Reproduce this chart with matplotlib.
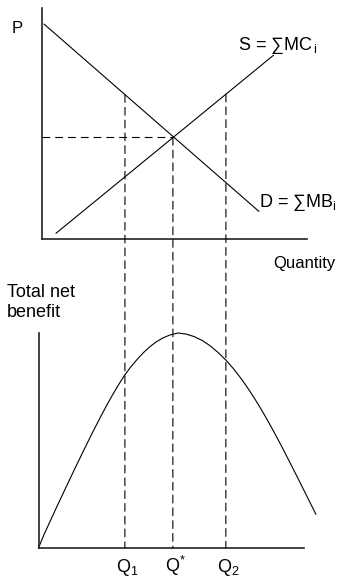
import numpy as np
import matplotlib
matplotlib.use("Agg")
import matplotlib.pyplot as plt
from matplotlib.patches import ConnectionPatch

plt.rcParams['font.family'] = ['Liberation Sans', 'DejaVu Sans']
plt.rcParams['mathtext.fontset'] = 'custom'
plt.rcParams['mathtext.rm'] = 'Liberation Sans'
plt.rcParams['mathtext.it'] = 'Liberation Sans'

# ---- data ----
demand_q = [1.0, 82.0]
demand_p = [93.0, 12.0]
supply_q = [5.5, 87.5]
supply_p = [2.5, 79.5]
q_star = 49.6
p_star = 44.0
q_marks = [31.5, 49.6, 69.6]
q_labels = [r"Q$_{1}$", r"Q$^{*}$", r"Q$_{2}$"]

nb_q = [-1.1, 0.94, 3.21, 5.47, 7.74, 10.0, 12.64, 14.91, 17.55, 19.81,
        22.08, 24.34, 26.60, 28.87, 31.51, 33.77, 36.42, 38.68, 40.94, 43.21,
        45.85, 48.49, 51.51, 54.53, 57.55, 60.57, 63.58, 66.60, 69.62, 72.64,
        75.66, 78.68, 81.70, 84.72, 87.74, 90.75, 93.77, 96.79, 99.81, 103.58]
nb_v = [0.0, 6.14, 12.23, 18.28, 24.23, 30.14, 36.98, 42.74, 49.40, 54.98,
        60.42, 65.67, 70.70, 75.44, 80.60, 84.28, 88.14, 91.07, 93.63, 95.77,
        97.72, 99.07, 100.0, 99.53, 98.37, 96.60, 94.14, 91.02, 87.40, 83.16,
        78.33, 72.93, 67.07, 60.74, 54.05, 47.07, 39.81, 32.47, 25.02, 15.72]

W, H = 350, 579
fig = plt.figure(figsize=(W / 100, H / 100), dpi=100)

def rect(x0, y0, x1, y1):
    return [x0 / W, 1 - y1 / H, (x1 - x0) / W, (y1 - y0) / H]

ax1 = fig.add_axes(rect(41.5, 8, 306.5, 239))
ax2 = fig.add_axes(rect(38.5, 333, 304, 548))

for ax in (ax1, ax2):
    for s in ('top', 'right'):
        ax.spines[s].set_visible(False)
    for s in ('left', 'bottom'):
        ax.spines[s].set_linewidth(1.2)
        ax.spines[s].set_color('#222222')
    ax.set_xticks([])
    ax.set_yticks([])
    ax.patch.set_alpha(0)

ax1.set_xlim(0, 100)
ax1.set_ylim(0, 100)
ax2.set_xlim(-1.1, 99.1)
ax2.set_ylim(0, 100)

lw = 0.8
dash = (0, (7, 4.5))
ax1.plot(demand_q, demand_p, color='black', lw=lw)
ax1.plot(supply_q, supply_p, color='black', lw=lw)
ax1.plot([0, q_star], [p_star, p_star], color='black', lw=lw, linestyle=dash)

ax2.plot(nb_q, nb_v, color='black', lw=lw, clip_on=False,
         solid_joinstyle='round')

tops = [np.interp(q_marks[0], demand_q, demand_p), p_star,
        np.interp(q_marks[2], supply_q, supply_p)]
for q, top in zip(q_marks, tops):
    con = ConnectionPatch(xyA=(q, top), coordsA=ax1.transData,
                          xyB=(q, 0), coordsB=ax2.transData,
                          color='black', lw=lw, linestyle=dash)
    fig.add_artist(con)

fs = 13
ax1.text(-0.112, 0.89, "P", transform=ax1.transAxes, fontsize=12)
ax1.text(74.0, 82, r"S = ∑MC$_{\,\mathrm{i}}$", fontsize=fs)
ax1.text(82.0, 14, r"D = ∑MB$_{\mathrm{i}}$", fontsize=fs)
ax1.text(1.11, -0.125, "Quantity", transform=ax1.transAxes, fontsize=12, ha='right')
ax2.text(-0.118, 1.075, "Total net\nbenefit", transform=ax2.transAxes, fontsize=fs,
         linespacing=1.2)
for q, lab in zip(q_marks, q_labels):
    ax2.text(q + 1.0, -11.0, lab, fontsize=fs, ha='center', va='baseline')

fig.savefig("out.png", dpi=100)
